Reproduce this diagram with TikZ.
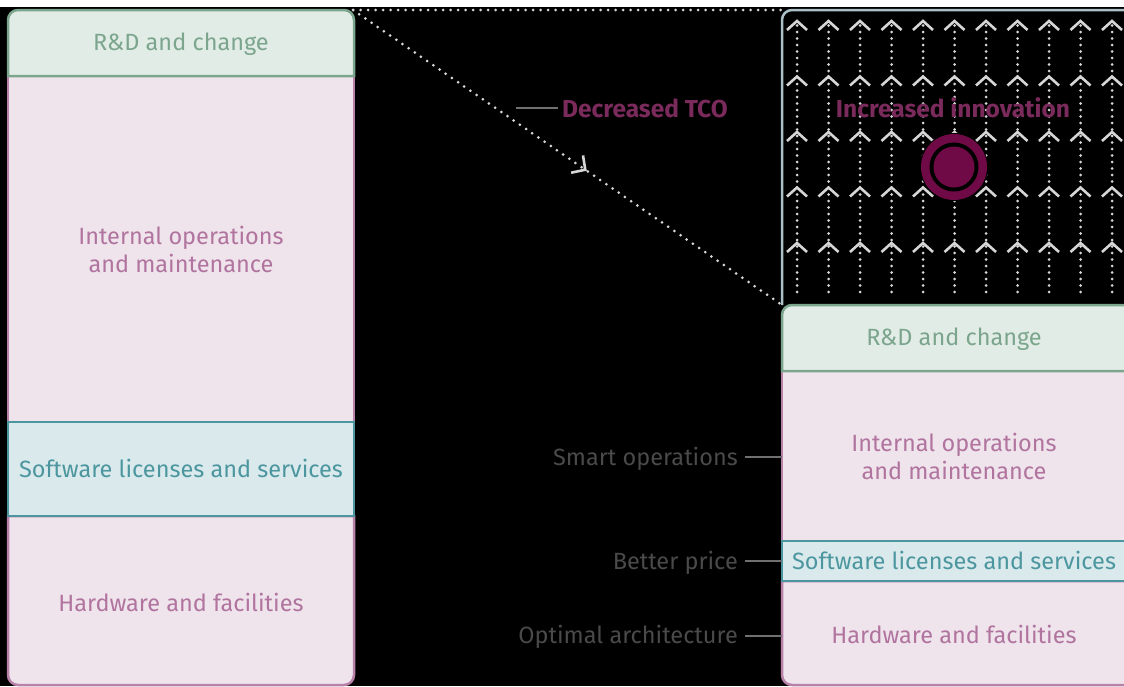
\documentclass[tikz,border=0pt]{standalone}
\usepackage{fontspec}
\setmainfont{Fira Sans}
\usetikzlibrary{arrows.meta,decorations.markings}
\definecolor{rdfill}{HTML}{E2ECE7}
\definecolor{rdline}{HTML}{7BA58C}
\definecolor{opfill}{HTML}{EFE3EC}
\definecolor{opline}{HTML}{B781A8}
\definecolor{optext}{HTML}{B0749F}
\definecolor{swfill}{HTML}{DAE9EC}
\definecolor{swline}{HTML}{4C979F}
\definecolor{frameline}{HTML}{AABFC6}
\definecolor{plum}{HTML}{7B2A5C}
\definecolor{plumdot}{HTML}{700A46}
\definecolor{labgray}{HTML}{4A4A4A}
\definecolor{tickgray}{HTML}{707070}
\definecolor{dotgray}{HTML}{D6D6D6}
\begin{document}
\begin{tikzpicture}[x=1pt,y=-1pt,
 lbl/.style={font=\fontsize{23.5}{28}\selectfont,align=center,inner sep=0},
 hot/.style={lbl,font=\fontsize{24.5}{28}\selectfont\bfseries,text=plum},
 rdbox/.style={fill=rdfill,draw=rdline,line width=2.5pt},
 opbox/.style={fill=opfill,draw=opline,line width=2.5pt},
 swbox/.style={fill=swfill,draw=swline,line width=2.5pt},
 side/.style={lbl,text=labgray,anchor=base east},
 tick/.style={draw=tickgray,line width=1.5pt},
 dotline/.style={draw=dotgray,line width=3pt,line cap=round,dash pattern=on 0pt off 7.5pt},
 chev/.style={draw=dotgray,line width=2.6pt}]
\fill[black] (0,0) rectangle (1124,686);
\fill[white] (0,0) rectangle (1124,7);
\useasboundingbox (0,0) rectangle (1124,686);
\coordinate (ltr) at (353,10);
\coordinate (rtl) at (782,10);
\coordinate (rml) at (782,305);
\coordinate (redge) at (782,0);
\coordinate (tcoend) at (516,108);
% left stack
\draw[opbox] (8,76) rectangle (354,422);
\draw[opbox] (8,516) [rounded corners=10]-- (8,685) -- (354,685) [sharp corners]-- (354,516) -- cycle;
\draw[swbox] (8,422) rectangle (354,516);
\draw[rdbox] (8,76) [rounded corners=10]-- (8,10) -- (354,10) [sharp corners]-- (354,76) -- cycle;
\node[lbl,text=rdline,anchor=base] (lrd) at (181,50) {R\&D and change};
\node[lbl,text=optext] (lint) at (181,249) {Internal operations\\and maintenance};
\node[lbl,text=swline,anchor=base] (lsw) at (181,477) {Software licenses and services};
\node[lbl,text=optext,anchor=base] (lhw) at (181,611) {Hardware and facilities};
% dotted links
\draw[dotline] (ltr) -- (rtl);
\draw[dotline,postaction={decorate},decoration={markings,mark=at position 0.545 with
 {\arrow[dotgray,line width=2.6pt]{Straight Barb[length=10pt,width=21pt]}}}] (ltr) -- (rml);
% innovation area
\draw[draw=frameline,line width=2.5pt] (782,305) [rounded corners=10]-- (782,10) -- (1135,10);
\foreach \x [evaluate=\x as \cx using 797+31.5*\x] in {0,...,10} {
 \draw[dotline,dash pattern=on 0pt off 6.5pt] (\cx,292) -- (\cx,24);
 \foreach \y [evaluate=\y as \cy using 21+55.5*\y] in {0,...,4}
  \draw[chev] (\cx-10,\cy+9) -- (\cx,\cy) -- (\cx+10,\cy+9);
}
\fill[black] (954,167) circle (34pt);
\fill[plumdot] (954,167) circle (33pt);
\fill[black] (954,167) circle (24.5pt);
\fill[plumdot] (954,167) circle (20.5pt);
\node[hot,anchor=base] (innov) at (953,117) {Increased innovation};
\node[hot,anchor=base west] (tco) at (562,117) {Decreased TCO};
\draw[tick] (tcoend) -- ([xshift=-4pt]tco.west |- tcoend);
% right stack
\draw[opbox] (782,371) rectangle (1135,541);
\draw[opbox] (782,581) [rounded corners=10]-- (782,685) -- (1135,685) [sharp corners]-- (1135,581) -- cycle;
\draw[swbox] (782,541) rectangle (1135,581);
\draw[rdbox] (782,371) [rounded corners=10]-- (782,305) -- (1135,305) [sharp corners]-- (1135,371) -- cycle;
\node[lbl,text=rdline,anchor=base] (rrd) at (954,345) {R\&D and change};
\node[lbl,text=optext] (rint) at (954,456) {Internal operations\\and maintenance};
\node[lbl,text=swline,anchor=base] (rsw) at (954,569) {Software licenses and services};
\node[lbl,text=optext,anchor=base] (rhw) at (954,643) {Hardware and facilities};
% side labels
\node[side] (smart) at (738,465) {Smart operations};
\node[side] (price) at (738,569) {Better price};
\node[side] (optimal) at (738,643) {Optimal architecture};
\draw[tick] (smart.base east) ++(7,-8) coordinate (s1) -- (s1 -| redge);
\draw[tick] (price.base east) ++(7,-8) coordinate (p1) -- (p1 -| redge);
\draw[tick] (optimal.base east) ++(7,-7) coordinate (o1) -- (o1 -| redge);
\end{tikzpicture}
\end{document}
